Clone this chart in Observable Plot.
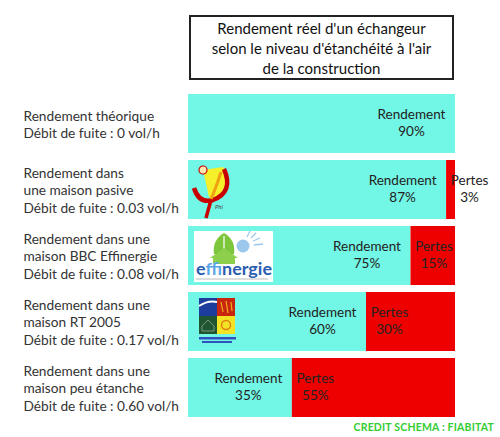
<!DOCTYPE html>
<html>
<head>
<meta charset="utf-8">
<script src="https://cdn.jsdelivr.net/npm/d3@7"></script>
<script src="https://cdn.jsdelivr.net/npm/@observablehq/plot@0.6"></script>
<style>
  html, body { margin: 0; padding: 0; background: #fff; }
  #wrap { position: relative; width: 500px; height: 437px; overflow: hidden; font-family: Lato, "Open Sans", sans-serif; }
  #title { position: absolute; left: 189px; top: 15px; width: 261px; height: 61px; border: 2px solid #222;
    text-align: center; font-size: 15px; line-height: 20px; color: #111; box-sizing: content-box; }
  #title div { margin-top: 1px; }
  #credit { position: absolute; right: 6px; top: 421px; font-size: 10.5px; font-weight: bold; color: #33cc33; letter-spacing: 0.2px; }
  #chart { position: absolute; left: 0; top: 0; }
</style>
</head>
<body>
<div id="wrap">
  <div id="chart"></div>
  <div id="title"><div>Rendement réel d'un échangeur<br>selon le niveau d'étanchéité à l'air<br>de la construction</div></div>
  <div id="credit">CREDIT SCHEMA : FIABITAT</div>
</div>
<script>
const rowLabels = [
  "Rendement théorique\nDébit de fuite : 0 vol/h",
  "Rendement dans\nune maison pasive\nDébit de fuite : 0.03 vol/h",
  "Rendement dans une\nmaison BBC Effinergie\nDébit de fuite : 0.08 vol/h",
  "Rendement dans une\nmaison RT 2005\nDébit de fuite : 0.17 vol/h",
  "Rendement dans une\nmaison peu étanche\nDébit de fuite : 0.60 vol/h"
];
const rendement = [90, 87, 75, 60, 35];
const pertes = [0, 3, 15, 30, 55];
const seriesNames = ["Rendement", "Pertes"];
const seriesColors = ["#72f6e5", "#ef0000"];

const rows = rowLabels.map((label, i) => ({label, rendement: rendement[i], pertes: pertes[i]}));
const stacked = [];
rows.forEach(r => {
  stacked.push({label: r.label, type: seriesNames[0], value: r.rendement});
  stacked.push({label: r.label, type: seriesNames[1], value: r.pertes});
});

const plot = Plot.plot({
  width: 500,
  height: 437,
  marginTop: 87,
  marginBottom: 13,
  marginLeft: 188,
  marginRight: 45,
  style: {fontFamily: "Lato, 'Open Sans', sans-serif", background: "transparent"},
  x: {domain: [0, 90], axis: null},
  y: {domain: rowLabels, padding: 0.1, axis: null},
  color: {domain: seriesNames, range: seriesColors},
  marks: [
    Plot.barX(stacked, {y: "label", x: "value", fill: "type", order: seriesNames}),
    Plot.text(rows, {y: "label", text: "label", frameAnchor: "left", textAnchor: "start", dx: -165,
      fontSize: 13.7, lineHeight: 1.25, fill: "#333"}),
    Plot.text(rows, {y: "label", x: "rendement", text: d => `Rendement\n${d.rendement}%`,
      textAnchor: "middle", dx: -44, dy: -2, fontSize: 13.5, lineHeight: 1.3, fill: "#222"}),
    Plot.text(rows.filter(d => d.pertes > 0), {y: "label", x: "rendement", text: d => `Pertes\n${d.pertes}%`,
      textAnchor: "middle", dx: 23, dy: -2, fontSize: 13.5, lineHeight: 1.3, fill: "#222"})
  ]
});
document.getElementById("chart").appendChild(plot);

// Decorative logos placed relative to the bands
const ys = plot.scale("y");
const svg = d3.select(plot);
const x0 = 188;

// PHI logo (row 2)
{
  const t = ys.apply(rowLabels[1]);
  const g = svg.append("g").attr("transform", `translate(${x0},${t})`).attr("text-anchor", "start");
  g.append("path").attr("d", "M15,10 L35,7 Q44,19 31,37 L21,37 Z").attr("fill", "#f5f02a");
  g.append("path").attr("d", "M6,28 Q11,44 25,40 Q46,32 36,9").attr("fill", "none").attr("stroke", "#c80000").attr("stroke-width", 4.5);
  g.append("path").attr("d", "M33,12 Q28,28 23,39").attr("fill", "none").attr("stroke", "#f0a010").attr("stroke-width", 3);
  g.append("path").attr("d", "M23,40 L18,58").attr("fill", "none").attr("stroke", "#c80000").attr("stroke-width", 3.5);
  g.append("circle").attr("cx", 15).attr("cy", 10).attr("r", 4).attr("fill", "#ffe8b0").attr("stroke", "#c80000").attr("stroke-width", 1.2);
  g.append("text").attr("x", 27).attr("y", 49).attr("font-size", 6).attr("font-style", "italic").attr("fill", "#444").text("Phi");
}

// Effinergie logo (row 3)
{
  const t = ys.apply(rowLabels[2]);
  const g = svg.append("g").attr("transform", `translate(${x0},${t})`).attr("text-anchor", "start");
  g.append("rect").attr("x", 6).attr("y", 5).attr("width", 79).attr("height", 51).attr("fill", "#fff");
  g.append("path").attr("d", "M36,7 Q24,14 26,28 L46,28 Q48,14 36,7 Z").attr("fill", "#7cc63c");
  g.append("path").attr("d", "M36,10 L36,28").attr("stroke", "#fff").attr("stroke-width", 1.2);
  g.append("path").attr("d", "M22,32 L36,22 L50,32 L47,32 L47,38 L25,38 L25,32 Z").attr("fill", "#8ccf4a");
  g.append("circle").attr("cx", 55).attr("cy", 20).attr("r", 6.5).attr("fill", "#9cc8ee");
  [[59,11,62,5],[63,12,68,7],[65,15,72,12],[66,19,75,18]].forEach(([a,b,c,d]) =>
    g.append("line").attr("x1", a).attr("y1", b).attr("x2", c).attr("y2", d).attr("stroke", "#9cc8ee").attr("stroke-width", 1.3));
  const tx = g.append("text").attr("x", 8).attr("y", 49).attr("font-size", 17).attr("font-weight", "bold")
    .attr("textLength", 76).attr("lengthAdjust", "spacingAndGlyphs").attr("font-family", "Lato, sans-serif");
  tx.append("tspan").attr("fill", "#2a5db0").text("e");
  tx.append("tspan").attr("fill", "#5aa6e6").text("ffi");
  tx.append("tspan").attr("fill", "#2a5db0").text("nergie");
  g.append("line").attr("x1", 8).attr("y1", 53).attr("x2", 80).attr("y2", 53).attr("stroke", "#bbb").attr("stroke-width", 1);
}

// RT 2005 logo (row 4)
{
  const t = ys.apply(rowLabels[3]);
  const g = svg.append("g").attr("transform", `translate(${x0},${t})`);
  g.append("rect").attr("x", 11).attr("y", 6).attr("width", 18).attr("height", 18).attr("fill", "#1c3d9c");
  g.append("path").attr("d", "M11,14 Q20,8 29,10").attr("fill", "none").attr("stroke", "#fff").attr("stroke-width", 2);
  g.append("rect").attr("x", 29).attr("y", 6).attr("width", 18).attr("height", 18).attr("fill", "#c8260e");
  g.append("path").attr("d", "M33,10 L35,20 M38,9 L40,21 M43,10 L44,19").attr("stroke", "#f0b020").attr("stroke-width", 1.2);
  g.append("rect").attr("x", 11).attr("y", 24).attr("width", 18).attr("height", 18).attr("fill", "#1f5530");
  g.append("path").attr("d", "M14,34 L20,28 L26,34 L26,39 L14,39 Z").attr("fill", "none").attr("stroke", "#8aa890").attr("stroke-width", 0.8);
  g.append("rect").attr("x", 29).attr("y", 24).attr("width", 18).attr("height", 18).attr("fill", "#f2e424");
  g.append("circle").attr("cx", 38).attr("cy", 33).attr("r", 4.5).attr("fill", "none").attr("stroke", "#e08010").attr("stroke-width", 1.5);
  g.append("rect").attr("x", 11).attr("y", 45).attr("width", 37).attr("height", 2.5).attr("fill", "#3050c0");
  g.append("rect").attr("x", 14).attr("y", 49).attr("width", 30).attr("height", 2).attr("fill", "#3050c0");
}
</script>
</body>
</html>
